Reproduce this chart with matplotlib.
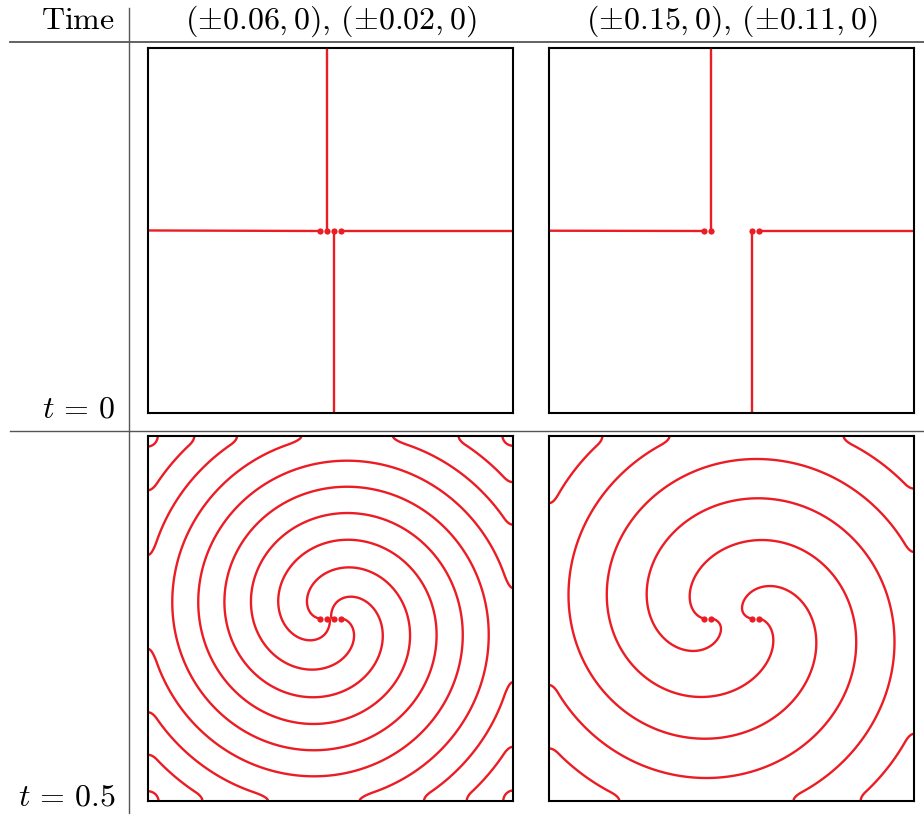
import numpy as np
import matplotlib
matplotlib.use("Agg")
import matplotlib.pyplot as plt
from matplotlib.lines import Line2D

plt.rcParams['mathtext.fontset'] = 'cm'
plt.rcParams['font.family'] = ['cmr10', 'DejaVu Serif']
plt.rcParams['axes.unicode_minus'] = False

# vortex x-positions (all on y = 0) for the two configurations
vortex_x = [
    [-0.06, -0.02, 0.02, 0.06],
    [-0.15, -0.11, 0.11, 0.15],
]
# direction (degrees) of the phase line leaving each vortex at t = 0
ray_angle = [180, 90, 270, 0]
# spiral parameters at t = 0.5: wave number and core radius
wave_k = [44.9, 31.9]
core_r0 = [0.18, 0.35]
# width of the no-flux layer at the walls
wall_layer = 0.05

col_titles = [r'$(\pm0.06,0),\,(\pm0.02,0)$', r'$(\pm0.15,0),\,(\pm0.11,0)$']
row_titles = [r'$t\,=\,0$', r'$t\,=\,0.5$']

RED = '#ec1c24'
W, H = 924, 814
FS = 23
fig = plt.figure(figsize=(W / 100, H / 100), dpi=100)


def px_axes(x0, y0, x1, y1):
    return fig.add_axes([x0 / W, 1 - y1 / H, (x1 - x0) / W, (y1 - y0) / H])


def style(ax):
    ax.set_xlim(-1, 1)
    ax.set_ylim(-1, 1)
    ax.set_xticks([])
    ax.set_yticks([])
    for s in ax.spines.values():
        s.set_linewidth(1.5)
        s.set_color('black')


def fold(u, d):
    # flattens the coordinate near |u| = 1 so the phase has zero normal slope
    a = np.abs(u)
    e = np.clip(a - (1 - d), 0, None)
    return np.sign(u) * (a - e ** 2 / (2 * d))


def draw_rays(ax, xs):
    for x, a in zip(xs, ray_angle):
        t = np.radians(a)
        ax.plot([x, x + 3 * np.cos(t)], [0, 3 * np.sin(t)], color=RED, lw=1.7,
                solid_capstyle='butt')
    ax.plot(xs, np.zeros(len(xs)), 'o', color=RED, ms=4.5, mec='none')


def draw_spiral(ax, xs, k, r0):
    g = np.linspace(-1.0, 1.0, 1600)
    X, Y = np.meshgrid(g, g)
    Z = fold(X, wall_layer) + 1j * fold(Y, wall_layer)
    P = np.ones_like(Z)
    for x in xs:
        P = P * (Z - x)
    R = np.abs(P) ** (1.0 / len(xs))
    # phase = winding of the vortices + outgoing wave, zero at the cores
    F = np.angle(P) + k * (np.sqrt(R ** 2 + r0 ** 2) - r0)
    S = np.ma.masked_where(np.cos(F) < 0, np.sin(F))
    ax.contour(X, Y, S, levels=[0], colors=RED, linewidths=1.7)
    ax.plot(xs, np.zeros(len(xs)), 'o', color=RED, ms=4.5, mec='none')


cols = [(148, 513), (549, 914)]
rows = [(48, 413), (436, 801)]

for j, (x0, x1) in enumerate(cols):
    ax = px_axes(x0, rows[0][0], x1, rows[0][1])
    style(ax)
    draw_rays(ax, vortex_x[j])
    ax = px_axes(x0, rows[1][0], x1, rows[1][1])
    style(ax)
    draw_spiral(ax, vortex_x[j], wave_k[j], core_r0[j])

# table rules
fig.add_artist(Line2D([10 / W, 1], [1 - 42 / H] * 2, color='#555555', lw=1.3))
fig.add_artist(Line2D([10 / W, 1], [1 - 431 / H] * 2, color='#555555', lw=1.0))
fig.add_artist(Line2D([129 / W] * 2, [0, 1 - 8 / H], color='#555555', lw=1.0))

fig.text(115 / W, 1 - 21 / H, r'$\mathrm{Time}$', ha='right', va='center', fontsize=FS)
for j, (x0, x1) in enumerate(cols):
    fig.text((x0 + x1) / 2 / W, 1 - 21 / H, col_titles[j], ha='center', va='center',
             fontsize=FS)
for i, (y0, y1) in enumerate(rows):
    fig.text(116 / W, 1 - (y1 + 5) / H, row_titles[i], ha='right', va='baseline',
             fontsize=FS)

fig.savefig('out.png', dpi=100)
